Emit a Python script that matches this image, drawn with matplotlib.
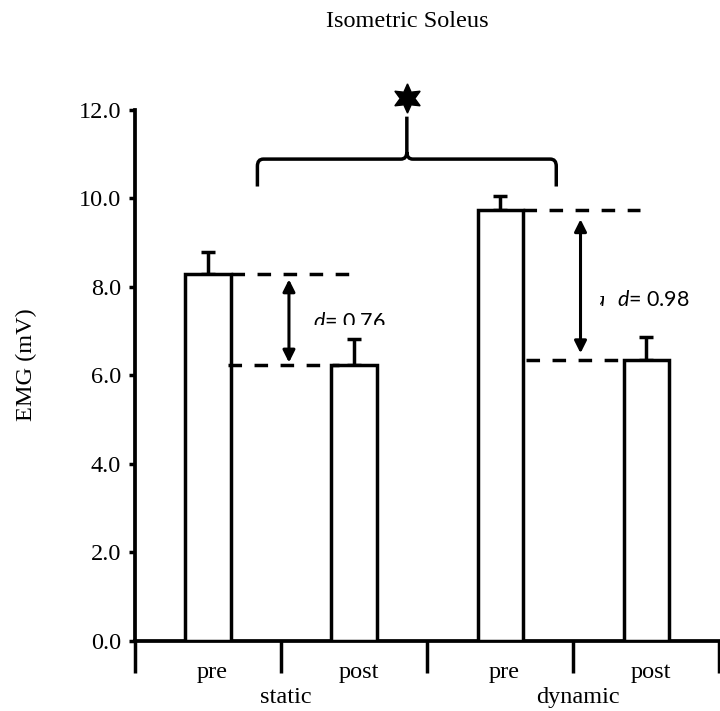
import matplotlib
matplotlib.use("Agg")
import matplotlib.pyplot as plt
from matplotlib.path import Path
from matplotlib.patches import PathPatch, Rectangle
import numpy as np

# ---- data ----
conditions = ["pre", "post", "pre", "post"]
groups = ["static", "dynamic"]
means = [8.30, 6.24, 9.74, 6.35]
errs = [0.48, 0.58, 0.31, 0.51]
effect_sizes = ["0.76", "0.98"]
yticks = [0, 2, 4, 6, 8, 10, 12]

plt.rcParams["mathtext.fontset"] = "custom"
plt.rcParams["mathtext.it"] = "Lato:italic"
plt.rcParams["mathtext.rm"] = "Lato"

serif = ["Liberation Serif", "DejaVu Serif"]
sans = ["Lato", "DejaVu Sans"]
FS = 17.5
LW = 2.5

fig = plt.figure(figsize=(7.2, 7.11), dpi=100)
ax = fig.add_axes([0.1875, 0.09888, 0.8115, 0.7464])

x = np.arange(len(means)) + 0.5
bw = 0.31
ax.bar(x, means, width=bw, color="white", edgecolor="black", linewidth=LW, zorder=3)
ax.errorbar(x, means, yerr=[np.zeros(len(errs)), errs], fmt="none", ecolor="black",
            elinewidth=LW, capsize=5, capthick=LW, zorder=2)

ax.set_xlim(0, 4)
ax.set_ylim(0, 12)
ax.set_yticks(yticks)
ax.set_yticklabels([f"{v:.1f}" for v in yticks], family=serif, fontsize=FS)
ax.set_xticks([0, 1, 2, 3, 4])
ax.set_xticklabels([])
ax.tick_params(axis="y", direction="out", length=4, width=LW, pad=6.0)
ax.tick_params(axis="x", direction="out", length=23, width=LW)
for s in ["top", "right"]:
    ax.spines[s].set_visible(False)
for s in ["left", "bottom"]:
    ax.spines[s].set_linewidth(LW + 0.2)

ax.set_ylabel("EMG (mV)", family=serif, fontsize=FS)
ax.yaxis.set_label_coords(-0.168, 0.52)

# category labels
for xi, c in zip(x, conditions):
    ax.text(xi + 0.03, -0.843, c, ha="center", va="baseline", family=serif,
            fontsize=FS, clip_on=False)
for gi, g in enumerate(groups):
    ax.text(1 + 2 * gi + 0.03, -1.40, g, ha="center", va="baseline", family=serif,
            fontsize=FS, clip_on=False)

fig.text(0.566, 0.9624, "Isometric Soleus", ha="center", va="baseline",
         family=serif, fontsize=FS)

# dashed reference lines
dash = (0, (3.9, 3.6))
ax.plot([0.655, 1.49], [means[0], means[0]], color="black", lw=LW, ls=dash, zorder=4)
ax.plot([0.64, 1.40], [means[1], means[1]], color="black", lw=LW, ls=dash, zorder=4)
ax.plot([2.655, 3.456], [means[2], means[2]], color="black", lw=LW, ls=dash, zorder=4)
ax.plot([2.68, 3.33], [means[3], means[3]], color="black", lw=LW, ls=dash, zorder=4)

# double arrows
ap = dict(arrowstyle="<|-|>", lw=2.2, color="black", mutation_scale=18,
          shrinkA=0, shrinkB=0)
ax.annotate("", xy=(1.054, 8.17), xytext=(1.054, 6.29), arrowprops=ap)
ax.annotate("", xy=(3.05, 9.53), xytext=(3.05, 6.50), arrowprops=ap)

# effect size text (with clipping like the original)
t1 = ax.text(1.216, 7.08, r"$d$" + "= " + effect_sizes[0], family=sans,
             fontsize=15.5, va="baseline", ha="left", zorder=5)
t1.set_clip_on(True)
t1.set_clip_path(Rectangle((1.0, 7.13), 1.0, 2.0, transform=ax.transData))
t2 = ax.text(3.297, 7.57, r"$d$" + "= " + effect_sizes[1], family=sans,
             fontsize=15.5, va="baseline", ha="left", zorder=5)
t3 = ax.text(3.135, 7.57, r"$d$", family=sans, fontsize=15.5,
             va="baseline", ha="left", zorder=5)
t3.set_clip_on(True)
t3.set_clip_path(Rectangle((3.185, 7.55), 0.025, 0.25, transform=ax.transData))

# curly brace
L, R, M = 0.838, 2.884, 1.861
yb, yh, ys = 10.27, 10.89, 11.85
rx, ry = 0.041, 0.16
verts = [(L, yb), (L, yh - ry), (L, yh), (L + rx, yh), (M - rx, yh), (M, yh), (M, yh + ry),
         (M, ys),
         (M, yh + ry), (M, yh), (M + rx, yh), (R - rx, yh), (R, yh), (R, yh - ry), (R, yb)]
codes = [Path.MOVETO, Path.LINETO, Path.CURVE3, Path.CURVE3, Path.LINETO, Path.CURVE3,
         Path.CURVE3, Path.LINETO,
         Path.MOVETO, Path.CURVE3, Path.CURVE3, Path.LINETO, Path.CURVE3, Path.CURVE3,
         Path.LINETO]
ax.add_patch(PathPatch(Path(verts, codes), fill=False, lw=LW, edgecolor="black",
                       clip_on=False, capstyle="butt"))
ax.plot([M], [12.27], marker=(6, 1, 0), markersize=21, color="black", clip_on=False)

fig.savefig("out.png", dpi=100)
